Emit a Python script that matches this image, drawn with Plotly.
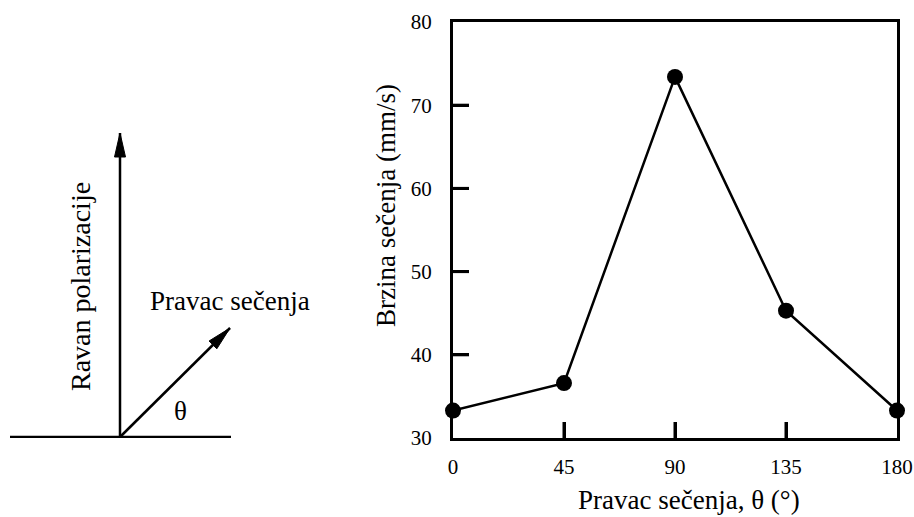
import plotly.graph_objects as go
import numpy as np

# ---- data ----
angles = [0, 45, 90, 135, 180]
speeds = [33.3, 36.6, 73.4, 45.3, 33.3]
x_ticks = [0, 45, 90, 135, 180]
y_ticks = [30, 40, 50, 60, 70, 80]
x_title = "Pravac sečenja, θ (°)"
y_title = "Brzina sečenja (mm/s)"

# schematic (diagram units, origin where lines meet)
base_x = [-110, 111]
base_y = [0, 0]
polar_vec = [0, 304]      # vertical arrow end
cut_vec = [110, 109]      # cutting-direction arrow end
label_polar = "Ravan polarizacije"
label_cut = "Pravac sečenja"
label_theta = "θ"

FONT = "Liberation Serif"
W, H = 914, 517
ML, MR, MT, MB = 0, 17, 22, 79
paper_w = W - ML - MR
paper_h = H - MT - MB
X_RANGE = [0, 180]
Y_RANGE = [30, 80]
X_DOM = [453 / paper_w, 1]
TICK_PX = 16
FRAME_W = 3
LW = 2.5

fig = go.Figure()

plot_w_px = (X_DOM[1] - X_DOM[0]) * paper_w
x_per_px = (X_RANGE[1] - X_RANGE[0]) / plot_w_px
y_per_px = (Y_RANGE[1] - Y_RANGE[0]) / paper_h

# inside tick marks as shapes anchored at the tick values
for v in x_ticks[1:-1]:
    fig.add_shape(type="line", xref="x", yref="y", x0=v, x1=v,
                  y0=Y_RANGE[0], y1=Y_RANGE[0] + TICK_PX * y_per_px,
                  line=dict(color="black", width=FRAME_W), layer="above")
for v in y_ticks[1:-1]:
    fig.add_shape(type="line", xref="x", yref="y", y0=v, y1=v,
                  x0=X_RANGE[0], x1=X_RANGE[0] + TICK_PX * x_per_px,
                  line=dict(color="black", width=FRAME_W), layer="above")

fig.add_trace(go.Scatter(
    x=angles, y=speeds, mode="lines+markers",
    line=dict(color="black", width=LW),
    marker=dict(color="black", size=16),
    cliponaxis=False, showlegend=False,
))

def arrow_head(tip, length=24, half_w=5.5):
    tx_, ty_ = tip
    d = np.hypot(tx_, ty_)
    ux, uy = tx_ / d, ty_ / d
    bx, by = tx_ - ux * length, ty_ - uy * length
    px, py = -uy * half_w, ux * half_w
    return [tx_, bx + px, bx - px, tx_], [ty_, by + py, by - py, ty_]

fig.add_trace(go.Scatter(x=base_x, y=base_y, mode="lines", xaxis="x2", yaxis="y2",
                         line=dict(color="black", width=LW), showlegend=False))
for vec in (polar_vec, cut_vec):
    fig.add_trace(go.Scatter(x=[0, vec[0]], y=[0, vec[1]], mode="lines", xaxis="x2", yaxis="y2",
                             line=dict(color="black", width=LW), showlegend=False))
    hx, hy = arrow_head(vec)
    fig.add_trace(go.Scatter(x=hx, y=hy, mode="lines", fill="toself", fillcolor="black",
                             xaxis="x2", yaxis="y2", line=dict(color="black", width=1),
                             showlegend=False))

fig.add_annotation(x=-40, y=150, xref="x2", yref="y2", text=label_polar, textangle=-90,
                   showarrow=False, font=dict(family=FONT, size=28, color="black"))
fig.add_annotation(x=110, y=136, xref="x2", yref="y2", text=label_cut,
                   showarrow=False, font=dict(family=FONT, size=27, color="black"))
fig.add_annotation(x=60, y=26, xref="x2", yref="y2", text=label_theta,
                   showarrow=False, font=dict(family=FONT, size=27, color="black"))

# axis titles
fig.add_annotation(x=(689 - 453) / plot_w_px, y=-62 / paper_h, xref="x domain", yref="y domain",
                   xanchor="center", yanchor="middle",
                   text=x_title, showarrow=False,
                   font=dict(family=FONT, size=27, color="black"))
fig.add_annotation(x=(386 - 453) / plot_w_px, y=(438 - 206) / paper_h, xref="x domain", yref="y domain",
                   xanchor="center", yanchor="middle",
                   text=y_title, textangle=-90, showarrow=False,
                   font=dict(family=FONT, size=27, color="black"))

axis_common = dict(showline=True, linecolor="black", linewidth=FRAME_W, mirror=True,
                   ticks="inside", ticklen=TICK_PX, tickwidth=FRAME_W, tickcolor="black",
                   showgrid=False, zeroline=False,
                   tickfont=dict(family=FONT, size=21, color="black"))

fig.update_layout(
    template="none",
    width=W, height=H,
    margin=dict(l=ML, r=MR, t=MT, b=MB),
    paper_bgcolor="white", plot_bgcolor="white",
    font=dict(family=FONT, color="black", size=21),
    xaxis=dict(domain=X_DOM, range=X_RANGE, tickvals=x_ticks, ticklabelstandoff=8, **axis_common),
    yaxis=dict(range=Y_RANGE, tickvals=y_ticks, ticklabelstandoff=14, **axis_common),
    xaxis2=dict(domain=[0, 260 / paper_w], range=[-120, 140], visible=False, anchor="y2"),
    yaxis2=dict(domain=[0, 1], range=[-1, 415], visible=False, anchor="x2"),
)

fig.write_html("out.html")
